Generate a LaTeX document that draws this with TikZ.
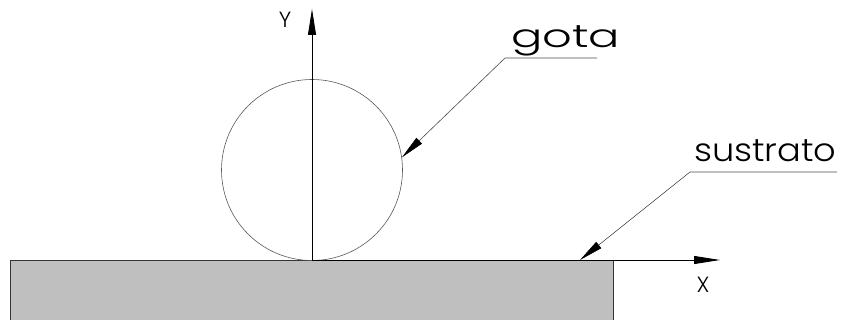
\documentclass[tikz,border=0pt]{standalone}
\usepackage{fontspec}
\newfontfamily\gotafont[FakeStretch=1.45]{Poppins Light}
\newfontfamily\subfont[FakeStretch=1.1]{Poppins Light}
\newfontfamily\axfont{Poppins Light}
\usetikzlibrary{arrows.meta, positioning, calc}

\begin{document}
\begin{tikzpicture}[x=1pt, y=-1pt,
    axis/.style={-{Triangle[length=26pt,width=8pt]}, line width=0.8pt},
    leader/.style={-{Triangle[length=24pt,width=8pt,black]}, line width=0.6pt, black!70},
    tag/.style={inner sep=0pt, anchor=base west},
    axlabel/.style={font=\axfont\fontsize{22}{22}\selectfont, inner sep=0pt},
    sub/.style={rectangle, draw=black!80, line width=1pt, fill=black!25, anchor=north west},
    drop/.style={circle, draw=black!65, line width=0.6pt, inner sep=0pt}
  ]
  \clip (0,0) rectangle (843,320);

  \node[sub, minimum width=603pt, minimum height=80pt] (substrate) at (10,260) {};
  \node[drop, minimum size=181pt] (gota) at (312,170) {};

  \coordinate (O) at (312,260);
  \coordinate (xend) at (720,260);
  \coordinate (yend) at (312,9);
  \draw[axis] (O) -- (xend);
  \draw[axis] (O) -- (yend);
  \node[axlabel] (ylab) at (285,20) {Y};
  \node[axlabel] (xlab) at (703,285) {X};

  % leaders
  \node[tag, font=\gotafont\fontsize{32}{32}\selectfont] (gotatxt) at (511,48) {gota};
  \coordinate (gotaR) at (597,58);
  \coordinate (gotaL) at (505,58);
  \draw[leader] (gotaR) -- (gotaL) -- (gota.8);

  \node[tag, font=\subfont\fontsize{32}{32}\selectfont] (subtxt) at (694,162) {sustrato};
  \coordinate (subR) at (837,172);
  \coordinate (subL) at (690,172);
  \coordinate (subtip) at (580,260);
  \draw[leader] (subR) -- (subL) -- (subtip);
\end{tikzpicture}
\end{document}
